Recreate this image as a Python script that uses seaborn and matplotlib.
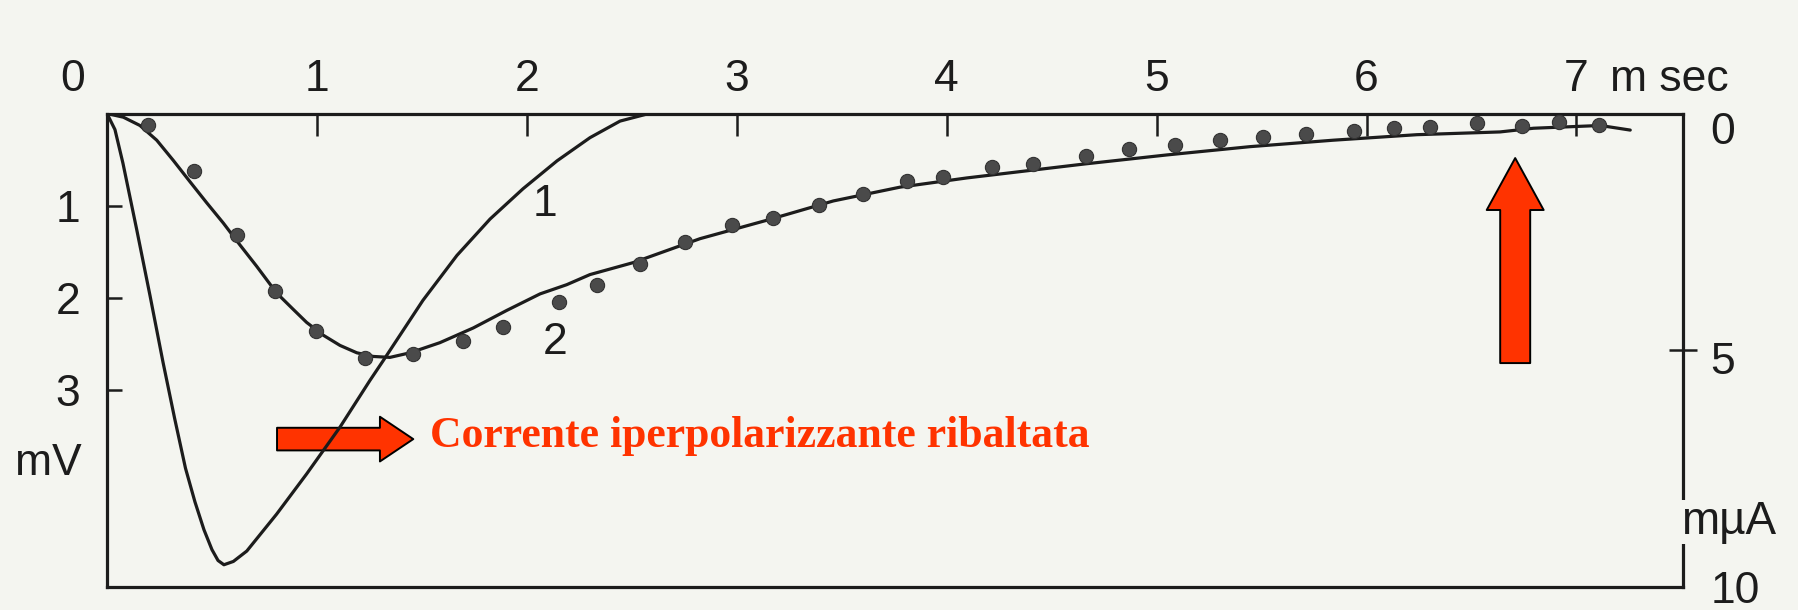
import matplotlib
matplotlib.use("Agg")
import matplotlib.pyplot as plt
from matplotlib.patches import FancyArrowPatch, ArrowStyle
import seaborn as sns

# Curve 1: injected current (flipped), mµA on the right-hand scale
curve1_t = [0.0, 0.038, 0.076, 0.141, 0.205, 0.267, 0.322, 0.374, 0.419, 0.462,
            0.500, 0.529, 0.557, 0.602, 0.666, 0.808, 0.951, 1.110, 1.253, 1.315,
            1.505, 1.667, 1.825, 1.982, 2.144, 2.301, 2.444, 2.573, 2.620]
curve1_i = [0.0, 0.34, 1.05, 2.44, 3.85, 5.26, 6.44, 7.50, 8.21, 8.80,
            9.22, 9.45, 9.54, 9.47, 9.25, 8.47, 7.62, 6.63, 5.64, 5.23,
            3.95, 3.00, 2.23, 1.59, 1.00, 0.51, 0.16, 0.01, 0.0]

# Curve 2: computed membrane response, mV on the left-hand scale
curve2_t = [0.0, 0.078, 0.157, 0.237, 0.316, 0.395, 0.475, 0.554, 0.634, 0.713,
            0.808, 0.888, 0.951, 1.031, 1.110, 1.190, 1.269, 1.348, 1.444, 1.586,
            1.745, 1.904, 2.063, 2.190, 2.301, 2.507, 2.825, 3.143, 3.460, 3.778,
            4.096, 4.650, 5.049, 5.445, 5.841, 6.240, 6.636, 6.795, 7.113, 7.256]
curve2_v = [0.0, 0.04, 0.13, 0.29, 0.51, 0.74, 0.97, 1.19, 1.43, 1.66,
            1.95, 2.13, 2.27, 2.41, 2.52, 2.60, 2.64, 2.65, 2.60, 2.49,
            2.33, 2.14, 1.96, 1.86, 1.75, 1.62, 1.36, 1.16, 0.95, 0.80,
            0.70, 0.55, 0.45, 0.36, 0.29, 0.23, 0.20, 0.16, 0.13, 0.18]

# Measured potentials (dots), mV
dots_t = [0.197, 0.414, 0.621, 0.800, 0.994, 1.229, 1.459, 1.695, 1.888, 2.155,
          2.333, 2.539, 2.754, 2.976, 3.174, 3.394, 3.603, 3.813, 3.981, 4.215,
          4.413, 4.664, 4.866, 5.088, 5.302, 5.506, 5.712, 5.938, 6.132, 6.303,
          6.528, 6.740, 6.919, 7.105]
dots_v = [0.13, 0.62, 1.32, 1.93, 2.36, 2.66, 2.61, 2.47, 2.32, 2.05,
          1.86, 1.64, 1.40, 1.21, 1.14, 0.99, 0.87, 0.73, 0.69, 0.58,
          0.55, 0.46, 0.39, 0.34, 0.29, 0.26, 0.22, 0.19, 0.16, 0.15,
          0.10, 0.14, 0.09, 0.12]

time_ticks = [1, 2, 3, 4, 5, 6, 7]
mv_ticks = [1, 2, 3]
ua_labels = [0, 5, 10]

BG = "#f4f5f0"
INK = "#1c1c1c"
DOT = "#4a4a4a"
RED = "#ff3300"

sns.set_theme(style="white")
plt.rcParams["font.family"] = ["Liberation Sans", "DejaVu Sans"]

fig = plt.figure(figsize=(17.98, 6.10), dpi=100, facecolor=BG)
ax = fig.add_axes([0.0595, 0.0385, 0.8765, 0.7754])
ax.set_facecolor(BG)
ax2 = ax.twinx()

line_kw = dict(color=INK, linewidth=2.3, estimator=None, sort=False,
               solid_joinstyle="round", solid_capstyle="round")
sns.lineplot(x=curve2_t, y=curve2_v, ax=ax, **line_kw)
sns.scatterplot(x=dots_t, y=dots_v, ax=ax, s=105, color=DOT,
                edgecolor="#333333", linewidth=0.8, zorder=3)
sns.lineplot(x=curve1_t, y=curve1_i, ax=ax2, **line_kw)

ax.set_xlim(0, 7.507)
ax.set_ylim(5.14, 0)
ax2.set_ylim(10, 0)
for a in (ax, ax2):
    a.set_xlabel("")
    a.set_ylabel("")

# frame
for name, sp in ax.spines.items():
    sp.set_visible(name != "right")
    sp.set_color(INK)
    sp.set_linewidth(2.3)
for name, sp in ax2.spines.items():
    sp.set_visible(name == "right")
    sp.set_color(INK)
    sp.set_linewidth(2.3)

# time axis on top
ax.xaxis.tick_top()
ax.set_xticks(time_ticks)
ax.tick_params(axis="x", direction="in", length=16, width=1.8, pad=10,
               labelsize=32, colors=INK, top=True, bottom=False)
ax.annotate("0", xy=(0, 1), xycoords=("data", "axes fraction"),
            xytext=(-25, 10), textcoords="offset points",
            ha="center", va="bottom", fontsize=32, color=INK)
ax.annotate("m sec", xy=(7.16, 1), xycoords=("data", "axes fraction"),
            xytext=(0, 10), textcoords="offset points",
            ha="left", va="bottom", fontsize=32, color=INK)

# voltage axis (left)
ax.set_yticks(mv_ticks)
ax.tick_params(axis="y", direction="in", length=11, width=1.8, pad=19,
               labelsize=32, colors=INK, left=True, right=False)
ax.annotate("mV", xy=(0, 3.755), xycoords=("axes fraction", "data"),
            xytext=(-18, 0), textcoords="offset points",
            ha="right", va="center_baseline", fontsize=32, color=INK)

# current axis (right)
ax2.set_yticks([5])
ax2.set_yticklabels([])
ax2.tick_params(axis="y", direction="inout", length=20, width=1.8,
                colors=INK, right=True, left=False)
label_dy = {0: -10.4, 5: -5.8, 10: 0}
for v in ua_labels:
    ax2.annotate(str(v), xy=(1, v), xycoords=("axes fraction", "data"),
                 xytext=(20, label_dy[v]), textcoords="offset points",
                 ha="left", va="center_baseline", fontsize=32, color=INK,
                 annotation_clip=False)
ax2.annotate("mµA", xy=(1, 8.64), xycoords=("axes fraction", "data"),
             xytext=(33, 0), textcoords="offset points",
             ha="center", va="center", fontsize=33, color=INK, zorder=6,
             bbox=dict(boxstyle="square,pad=0", fc=BG, ec="none"),
             annotation_clip=False)

# curve numbers
ax.text(2.087, 0.94, "1", fontsize=32, color=INK, ha="center", va="center_baseline")
ax.text(2.134, 2.44, "2", fontsize=32, color=INK, ha="center", va="center_baseline")

# red callouts
h_arrow = FancyArrowPatch((0.810, 3.538), (1.459, 3.538),
                          arrowstyle=ArrowStyle.Simple(head_length=24, head_width=32.2,
                                                       tail_width=16.3),
                          mutation_scale=1, fc=RED, ec="black", lw=1.4,
                          shrinkA=0, shrinkB=0, zorder=6, clip_on=False)
ax.add_patch(h_arrow)
v_arrow = FancyArrowPatch((6.708, 2.712), (6.708, 0.484),
                          arrowstyle=ArrowStyle.Simple(head_length=37.4, head_width=41,
                                                       tail_width=21.6),
                          mutation_scale=1, fc=RED, ec="black", lw=1.4,
                          shrinkA=0, shrinkB=0, zorder=6, clip_on=False)
ax.add_patch(v_arrow)
ax.text(1.539, 3.625, "Corrente iperpolarizzante ribaltata",
        family=["Liberation Serif", "DejaVu Serif"], fontweight="bold",
        fontsize=31.5, color=RED, ha="left", va="baseline", zorder=6)

fig.savefig("out.png", dpi=100, facecolor=BG)
